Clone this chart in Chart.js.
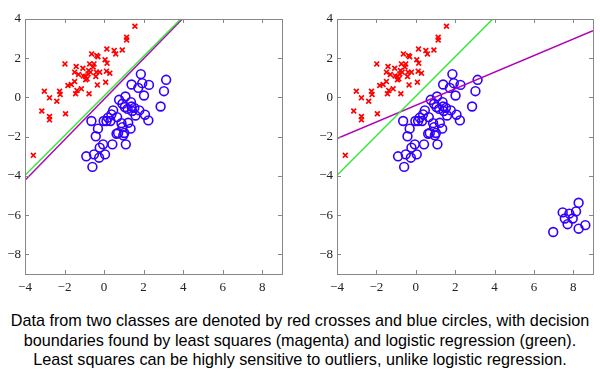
<!DOCTYPE html>
<html>
<head>
<meta charset="utf-8">
<script src="https://cdn.jsdelivr.net/npm/chart.js@4"></script>
<style>
  body { margin: 0; background: #fff; width: 600px; height: 380px; position: relative; overflow: hidden; }
  canvas { position: absolute; top: 0; }
  #left { left: 0; }
  #right { left: 300px; }
  #caption {
    position: absolute; left: 0; top: 311px; width: 600px;
    text-align: center; font-family: "Liberation Sans", sans-serif;
    font-size: 16.2px; line-height: 19.5px; color: #000;
  }
</style>
</head>
<body>
<canvas id="left" width="300" height="300"></canvas>
<canvas id="right" width="300" height="300"></canvas>
<div id="caption">Data from two classes are denoted by red crosses and blue circles, with decision<br>boundaries found by least squares (magenta) and logistic regression (green).<br>Least squares can be highly sensitive to outliers, unlike logistic regression.</div>

<script>
// tick labels
const xTicks = [-4, -2, 0, 2, 4, 6, 8];
const yTicks = [-8, -6, -4, -2, 0, 2, 4];

// classe rossa (croci)
const redX = [1.56, 1.14, 1.14, 0.14, 0.51, 0.59, 0.92, -0.63, -0.37, -0.31, 0.05, 0.15, -1.98, -1.41,
  -0.73, -0.51, -1.07, -1.49, -1.29, -0.78, -0.69, -0.81, -0.39, -0.22, 0.12, 0.29, -1.49, -0.93,
  -0.86, -0.93, -0.42, 0.08, -0.34, -1.83, -1.66, -1.15, -1.37, -1.44, -0.76, -3.02, -2.25, -2.22,
  -2.76, -2.39, -3.15, -2.76, -2.76, -1.95, -3.58, -1.05, -0.55];
const redY = [3.63, 3.07, 2.93, 2.47, 2.39, 2.22, 2.42, 2.22, 2.14, 2.08, 1.92, 1.75, 1.71, 1.58,
  1.71, 1.71, 1.49, 1.29, 1.17, 1.37, 1.29, 1.20, 1.29, 1.29, 1.34, 1.24, 0.81, 1.07,
  0.95, 0.90, 1.07, 0.78, 0.64, 0.61, 0.66, 0.44, 0.36, 0.19, 0.19, 0.32, 0.32, 0.15,
  -0.02, -0.19, -0.69, -0.97, -1.14, -0.83, -2.95, 1.10, 1.55];

// classe blu (cerchi)
const blueX = [1.86, 1.39, 1.93, 2.27, 1.73, 3.14, 3.03, 2.02, 1.08, 0.76, 0.93, 1.36, 1.05, 1.19,
  1.39, 1.53, 1.42, 1.59, 1.78, 2.07, 2.24, 2.86, 0.46, 0.37, 0.20, 0.66, 0.12, -0.02, -0.64,
  0.32, 0.88, 1.22, 0.93, 1.34, -0.31, 0.71, 0.63, 0.97, 1.02, -0.42, 1.10, 0.42, -0.05, -0.22,
  0.05, -0.51, -0.90, -0.25, -0.59];
const blueY = [1.19, 0.66, 0.73, 0.64, 0.49, 0.90, 0.32, 0.10, 0.05, -0.12, -0.32, -0.24, -0.49, -0.58,
  -0.46, -0.53, -0.69, -0.92, -0.66, -0.88, -1.17, -0.46, -0.66, -0.86, -1.03, -1.00, -1.20, -1.20, -1.20,
  -1.20, -1.31, -1.29, -1.51, -1.59, -1.59, -1.81, -1.85, -1.93, -1.81, -1.98, -2.39, -2.39, -2.39, -2.56,
  -2.90, -2.90, -3.00, -3.07, -3.54];

// outlier blu (solo grafico destro)
const outX = [7.46, 7.80, 8.14, 8.27, 7.57, 7.97, 7.71, 8.61, 8.27, 6.98];
const outY = [-5.86, -5.92, -5.81, -5.37, -6.17, -6.17, -6.46, -6.51, -6.69, -6.86];

// confini di decisione: estremi [x, y]
const logLeft = [[-4, -3.97], [9, 9.18]];
const lsqLeft = [[-4, -4.22], [9, 9.21]];
const logRight = [[-4, -3.97], [9, 9.13]];
const lsqRight = [[-4, -2.10], [9, 3.40]];

const punti = (xs, ys) => xs.map((x, i) => ({ x, y: ys[i] }));
const linea = seg => seg.map(p => ({ x: p[0], y: p[1] }));

const cornice = {
  id: 'cornice',
  afterDraw(chart) {
    const { ctx, chartArea: a, scales } = chart;
    ctx.save();
    ctx.strokeStyle = '#888';
    ctx.lineWidth = 1;
    ctx.strokeRect(a.left + 0.5, a.top + 0.5, a.right - a.left, a.bottom - a.top);
    ctx.beginPath();
    scales.x.ticks.forEach(t => {
      const px = Math.round(scales.x.getPixelForValue(t.value)) + 0.5;
      ctx.moveTo(px, a.bottom); ctx.lineTo(px, a.bottom - 4);
      ctx.moveTo(px, a.top); ctx.lineTo(px, a.top + 4);
    });
    scales.y.ticks.forEach(t => {
      const py = Math.round(scales.y.getPixelForValue(t.value)) + 0.5;
      ctx.moveTo(a.left, py); ctx.lineTo(a.left + 4, py);
      ctx.moveTo(a.right, py); ctx.lineTo(a.right - 4, py);
    });
    ctx.stroke();
    ctx.restore();
  }
};

function creaGrafico(id, blu, log, lsq, yWidth, padRight) {
  const tickFont = { family: 'Liberation Serif', size: 13 };
  const fmt = v => String(v).replace('-', '\u2212');
  return new Chart(document.getElementById(id), {
    type: 'scatter',
    data: {
      datasets: [
        { data: linea(log), showLine: true, borderColor: '#3ae63a', borderWidth: 1.5, pointRadius: 0 },
        { data: linea(lsq), showLine: true, borderColor: '#b000b8', borderWidth: 1.5, pointRadius: 0 },
        { data: punti(redX, redY), pointStyle: 'crossRot', pointRadius: 3.4, borderColor: '#ff0000', borderWidth: 1.7 },
        { data: blu, pointStyle: 'circle', pointRadius: 4.4, borderColor: '#3300ff', backgroundColor: 'rgba(0,0,0,0)', borderWidth: 1.6 }
      ]
    },
    options: {
      responsive: false,
      animation: false,
      layout: { padding: { top: 19, right: padRight, left: 0, bottom: 6 } },
      plugins: { legend: { display: false }, tooltip: { enabled: false } },
      scales: {
        x: {
          min: -4, max: 9,
          afterBuildTicks: s => { s.ticks = xTicks.map(v => ({ value: v })); },
          afterFit: s => { s.height = 20; },
          grid: { display: false, drawTicks: false },
          border: { display: false },
          ticks: { font: tickFont, color: '#222', padding: 6, maxRotation: 0, callback: fmt }
        },
        y: {
          min: -9, max: 4,
          afterBuildTicks: s => { s.ticks = yTicks.map(v => ({ value: v })); },
          afterFit: s => { s.width = yWidth; },
          grid: { display: false, drawTicks: false },
          border: { display: false },
          ticks: { font: tickFont, color: '#222', padding: 4, callback: fmt }
        }
      }
    },
    plugins: [cornice]
  });
}

creaGrafico('left', punti(blueX, blueY), logLeft, lsqLeft, 25, 18);
creaGrafico('right', punti(blueX.concat(outX), blueY.concat(outY)), logRight, lsqRight, 37, 7);
</script>
</body>
</html>
